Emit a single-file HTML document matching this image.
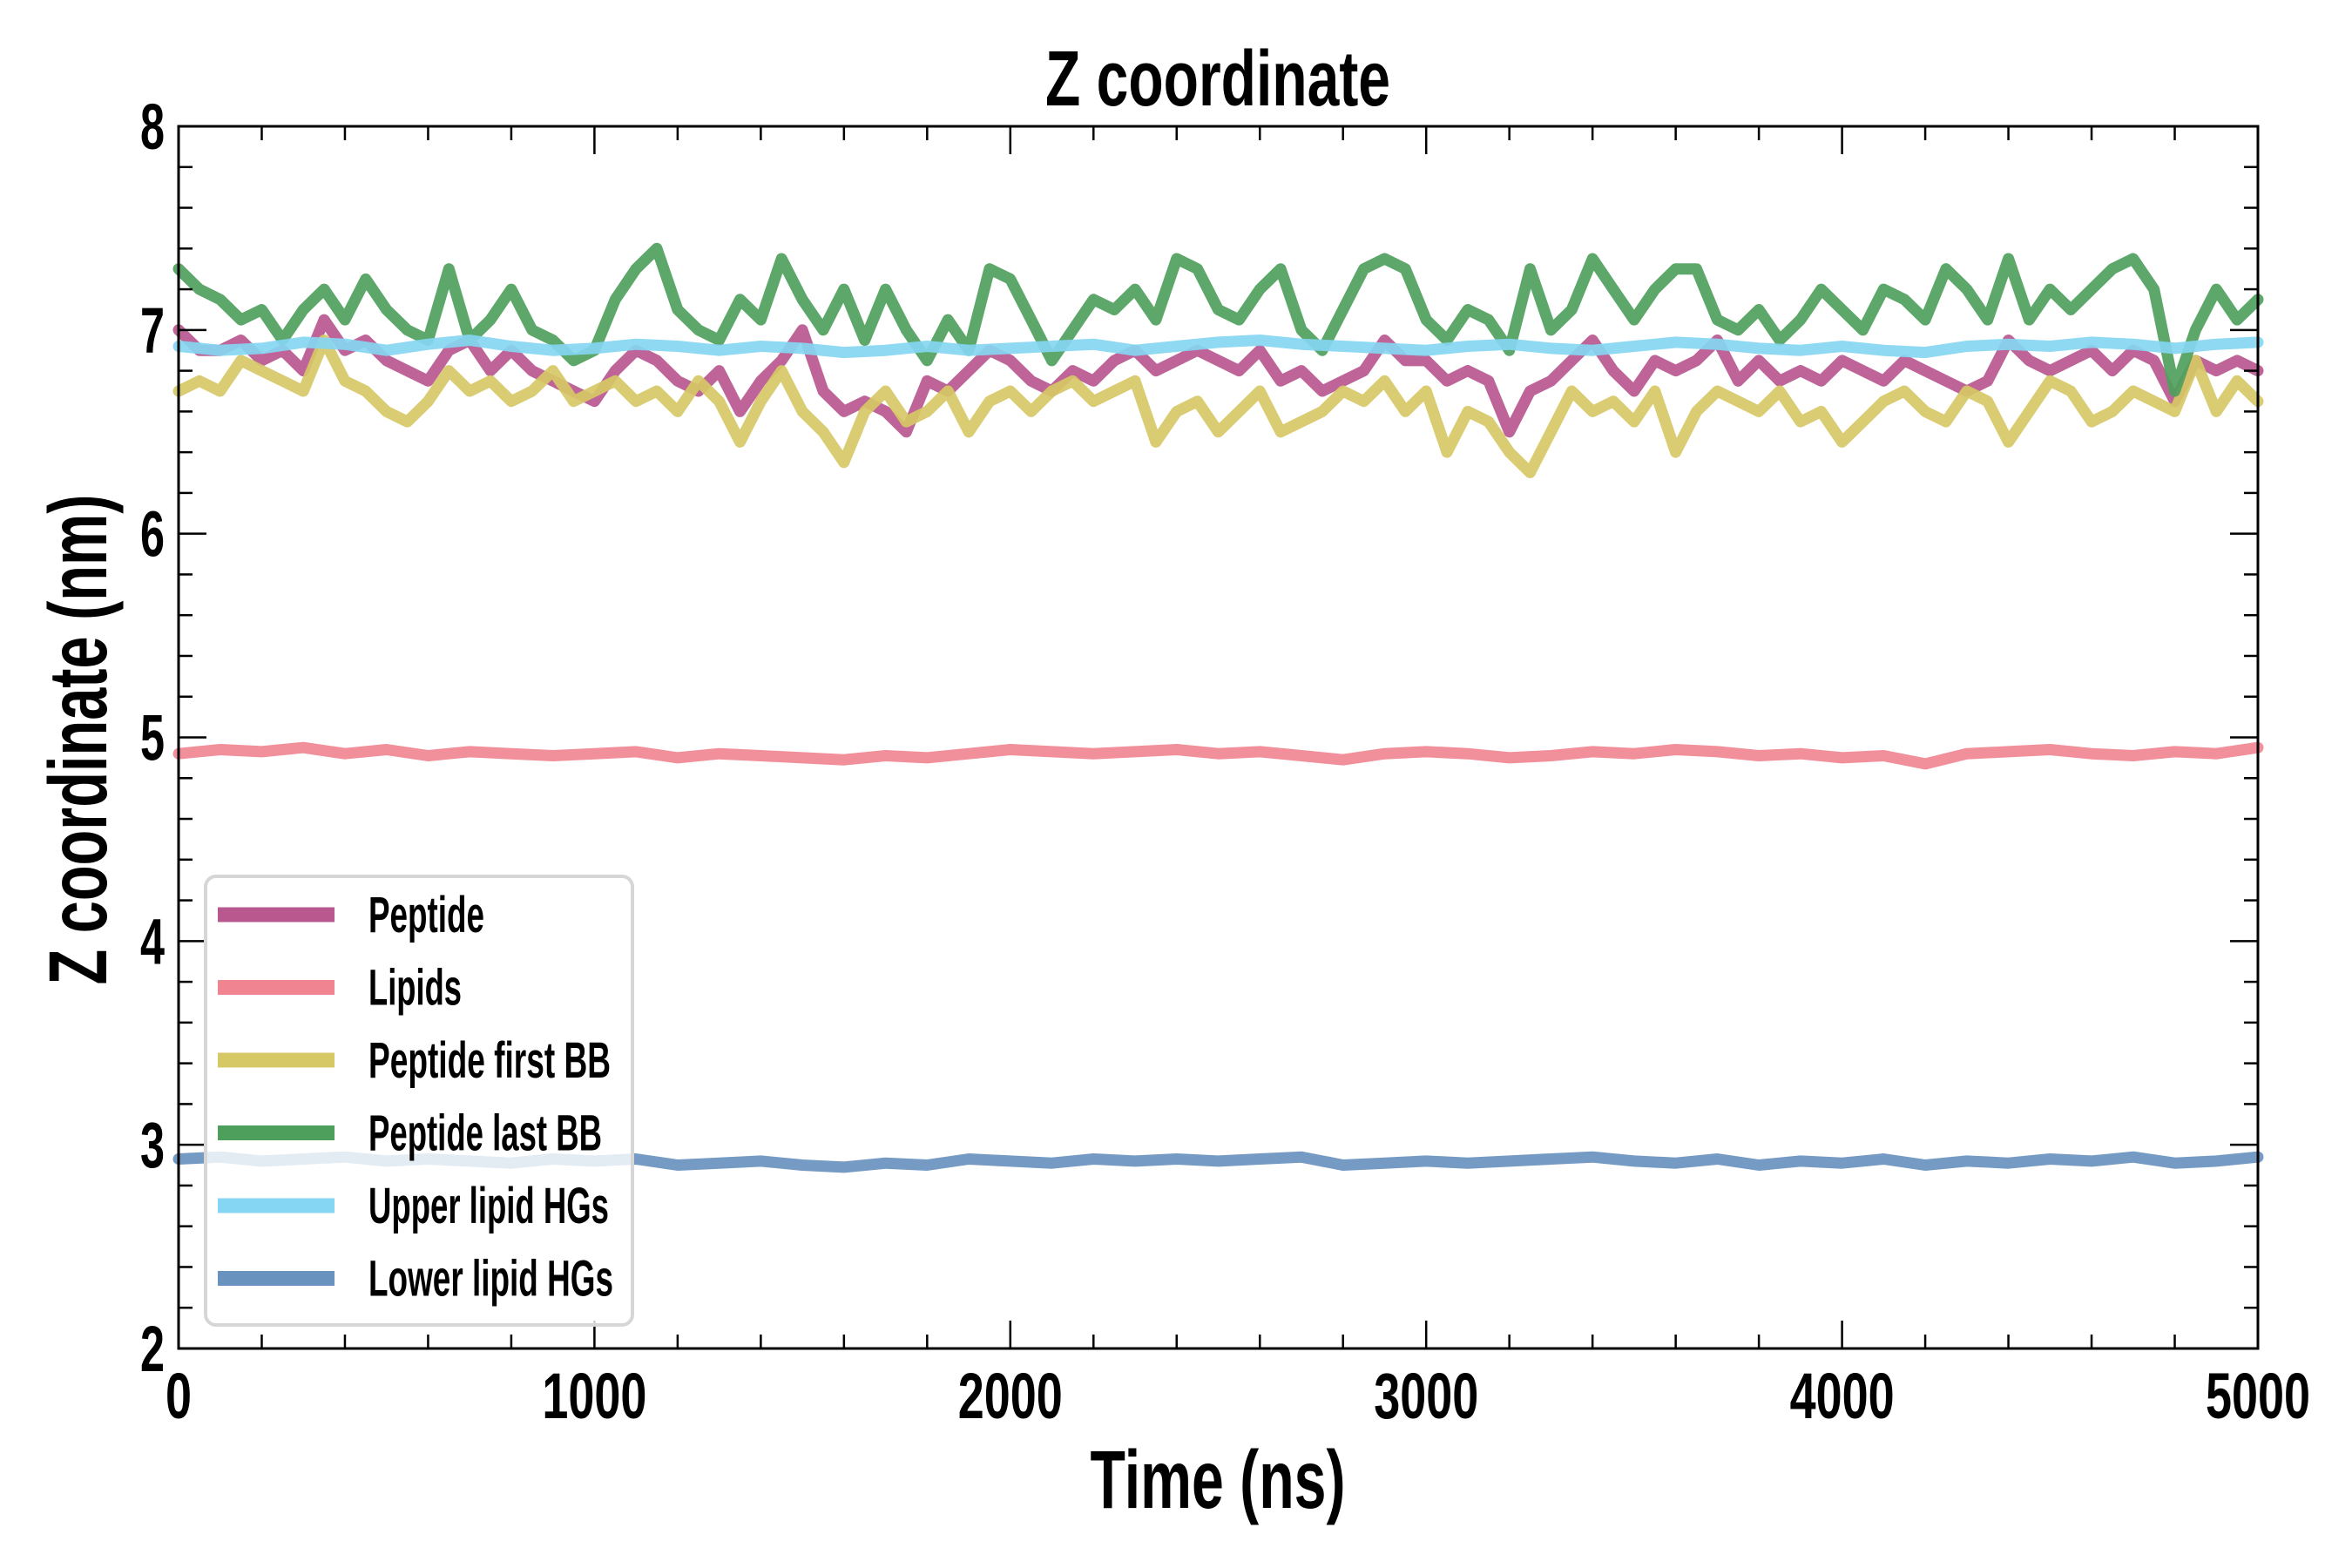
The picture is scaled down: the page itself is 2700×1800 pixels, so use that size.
<!DOCTYPE html>
<html><head><meta charset="utf-8"><style>
html,body{margin:0;padding:0;background:#fff;}
svg{display:block;}
text{font-family:"Liberation Sans Narrow","Liberation Sans",sans-serif;font-weight:bold;fill:#000;}
</style></head><body>
<svg id="chart" width="2700" height="1800" viewBox="0 0 2700 1800" xmlns="http://www.w3.org/2000/svg">
<g id="plot"></g>
<g id="axes"></g>
<g id="legend"></g>
<text x="1398" y="121" text-anchor="middle" font-size="90" textLength="396" lengthAdjust="spacingAndGlyphs">Z coordinate</text>
<text x="1398" y="1731" text-anchor="middle" font-size="95" textLength="293" lengthAdjust="spacingAndGlyphs">Time (ns)</text>
<text transform="translate(122,849) rotate(-90)" x="0" y="0" text-anchor="middle" font-size="95" textLength="563" lengthAdjust="spacingAndGlyphs">Z coordinate (nm)</text>
</svg>
<script>
const peptide=[7.0,6.9,6.9,6.95,6.85,6.9,6.8,7.05,6.9,6.95,6.85,6.8,6.75,6.9,6.95,6.8,6.9,6.8,6.75,6.7,6.65,6.8,6.9,6.85,6.75,6.7,6.8,6.6,6.75,6.85,7.0,6.7,6.6,6.65,6.6,6.5,6.75,6.7,6.8,6.9,6.85,6.75,6.7,6.8,6.75,6.85,6.9,6.8,6.85,6.9,6.85,6.8,6.9,6.75,6.8,6.7,6.75,6.8,6.95,6.85,6.85,6.75,6.8,6.75,6.5,6.7,6.75,6.85,6.95,6.8,6.7,6.85,6.8,6.85,6.95,6.75,6.85,6.75,6.8,6.75,6.85,6.8,6.75,6.85,6.8,6.75,6.7,6.75,6.95,6.85,6.8,6.85,6.9,6.8,6.9,6.85,6.65,6.85,6.8,6.85,6.8];
const lipids=[4.92,4.94,4.93,4.95,4.92,4.94,4.91,4.93,4.92,4.91,4.92,4.93,4.9,4.92,4.91,4.9,4.89,4.91,4.9,4.92,4.94,4.93,4.92,4.93,4.94,4.92,4.93,4.91,4.89,4.92,4.93,4.92,4.9,4.91,4.93,4.92,4.94,4.93,4.91,4.92,4.9,4.91,4.87,4.92,4.93,4.94,4.92,4.91,4.93,4.92,4.95];
const firstBB=[6.7,6.75,6.7,6.85,6.8,6.75,6.7,6.95,6.75,6.7,6.6,6.55,6.65,6.8,6.7,6.75,6.65,6.7,6.8,6.65,6.7,6.75,6.65,6.7,6.6,6.75,6.65,6.45,6.65,6.8,6.6,6.5,6.35,6.6,6.7,6.55,6.6,6.7,6.5,6.65,6.7,6.6,6.7,6.75,6.65,6.7,6.75,6.45,6.6,6.65,6.5,6.6,6.7,6.5,6.55,6.6,6.7,6.65,6.75,6.6,6.7,6.4,6.6,6.55,6.4,6.3,6.5,6.7,6.6,6.65,6.55,6.7,6.4,6.6,6.7,6.65,6.6,6.7,6.55,6.6,6.45,6.55,6.65,6.7,6.6,6.55,6.7,6.65,6.45,6.6,6.75,6.7,6.55,6.6,6.7,6.65,6.6,6.85,6.6,6.75,6.65];
const lastBB=[7.3,7.2,7.15,7.05,7.1,6.95,7.1,7.2,7.05,7.25,7.1,7.0,6.95,7.3,6.95,7.05,7.2,7.0,6.95,6.85,6.9,7.15,7.3,7.4,7.1,7.0,6.95,7.15,7.05,7.35,7.15,7.0,7.2,6.95,7.2,7.0,6.85,7.05,6.9,7.3,7.25,7.05,6.85,7.0,7.15,7.1,7.2,7.05,7.35,7.3,7.1,7.05,7.2,7.3,7.0,6.9,7.1,7.3,7.35,7.3,7.05,6.95,7.1,7.05,6.9,7.3,7.0,7.1,7.35,7.2,7.05,7.2,7.3,7.3,7.05,7.0,7.1,6.95,7.05,7.2,7.1,7.0,7.2,7.15,7.05,7.3,7.2,7.05,7.35,7.05,7.2,7.1,7.2,7.3,7.35,7.2,6.7,7.0,7.2,7.05,7.15];
const upperHG=[6.92,6.9,6.91,6.94,6.93,6.9,6.93,6.95,6.92,6.9,6.91,6.93,6.92,6.9,6.92,6.91,6.89,6.9,6.92,6.9,6.91,6.92,6.93,6.9,6.92,6.94,6.95,6.93,6.92,6.91,6.9,6.92,6.93,6.91,6.9,6.92,6.94,6.93,6.91,6.9,6.92,6.9,6.89,6.92,6.93,6.92,6.94,6.93,6.91,6.93,6.94];
const lowerHG=[2.93,2.94,2.92,2.93,2.94,2.92,2.93,2.92,2.91,2.93,2.92,2.93,2.9,2.91,2.92,2.9,2.89,2.91,2.9,2.93,2.92,2.91,2.93,2.92,2.93,2.92,2.93,2.94,2.9,2.91,2.92,2.91,2.92,2.93,2.94,2.92,2.91,2.93,2.9,2.92,2.91,2.93,2.9,2.92,2.91,2.93,2.92,2.94,2.91,2.92,2.94];
const seriesNames=["Peptide","Lipids","Peptide first BB","Peptide last BB","Upper lipid HGs","Lower lipid HGs"];
const xTicks=[0,1000,2000,3000,4000,5000];
const yTicks=[2,3,4,5,6,7,8];

const NS="http://www.w3.org/2000/svg";
const L=205,R=2592,T=145,B=1548,XMAX=5000,YMIN=2,YMAX=8;
const xs=t=>L+(t/XMAX)*(R-L);
const ys=v=>B-(v-YMIN)/(YMAX-YMIN)*(B-T);
function mk(tag,attrs,parent){const e=document.createElementNS(NS,tag);for(const k in attrs)e.setAttribute(k,attrs[k]);parent.appendChild(e);return e;}
const plot=document.getElementById('plot'),axes=document.getElementById('axes'),legend=document.getElementById('legend');
const series=[peptide,lipids,firstBB,lastBB,upperHG,lowerHG];
const colors=["#b9578f","#f08591","#d7c866","#4e9f5c","#85d6f2","#6992bf"];
const slugs=["peptide","lipids","peptide-first-bb","peptide-last-bb","upper-lipid-hgs","lower-lipid-hgs"];
series.forEach((d,i)=>{
  const step=XMAX/(d.length-1);
  const pts=d.map((v,j)=>xs(j*step).toFixed(1)+","+ys(v).toFixed(1)).join(" ");
  const p=mk('polyline',{points:pts,fill:"none",stroke:colors[i],'stroke-width':13,'stroke-linejoin':'round','stroke-linecap':'round','stroke-opacity':0.92},plot);
  
  
});
const fr=mk('rect',{x:L,y:T,width:R-L,height:B-T,fill:"none",stroke:"#000",'stroke-width':3},axes);


for(let t=0;t<=XMAX;t+=200){
  const major=t%1000===0,len=major?32:16,x=xs(t);
  const a=mk('line',{x1:x,y1:B,x2:x,y2:B-len,stroke:"#000",'stroke-width':2.5},axes);
  
  
  const b=mk('line',{x1:x,y1:T,x2:x,y2:T+len,stroke:"#000",'stroke-width':2.5},axes);
  
  
}
xTicks.forEach(t=>{
  const tx=mk('text',{x:xs(t),y:1628,'text-anchor':'middle','font-size':74},axes);
  tx.textContent=String(t);
  
  
  const w=String(t).length*30;tx.setAttribute('textLength',w);tx.setAttribute('lengthAdjust','spacingAndGlyphs');
});
for(let k=0;k<=30;k++){
  const v=YMIN+k*0.2,major=k%5===0,len=major?32:16,y=ys(v);
  const a=mk('line',{x1:L,y1:y,x2:L+len,y2:y,stroke:"#000",'stroke-width':2.5},axes);
  
  
  const b=mk('line',{x1:R,y1:y,x2:R-len,y2:y,stroke:"#000",'stroke-width':2.5},axes);
  
  
}
yTicks.forEach(v=>{
  const tx=mk('text',{x:189,y:ys(v)+26,'text-anchor':'end','font-size':74,textLength:28,lengthAdjust:'spacingAndGlyphs'},axes);
  tx.textContent=String(v);
  
  
});
const box=mk('rect',{x:236,y:1006,width:490,height:515,rx:12,fill:"rgba(255,255,255,0.8)",stroke:"#d6d6d6",'stroke-width':4},legend);


const lw=[133,107,278,268,276,281];
seriesNames.forEach((n,i)=>{
  const cy=1050+i*83.5;
  const h=mk('rect',{x:250,y:cy-8.5,width:134,height:17,fill:colors[i]},legend);
  
  
  const tx=mk('text',{x:423,y:cy+20,'font-size':58,textLength:lw[i],lengthAdjust:'spacingAndGlyphs'},legend);
  tx.textContent=n;
  
  
});
</script>
</body></html>
